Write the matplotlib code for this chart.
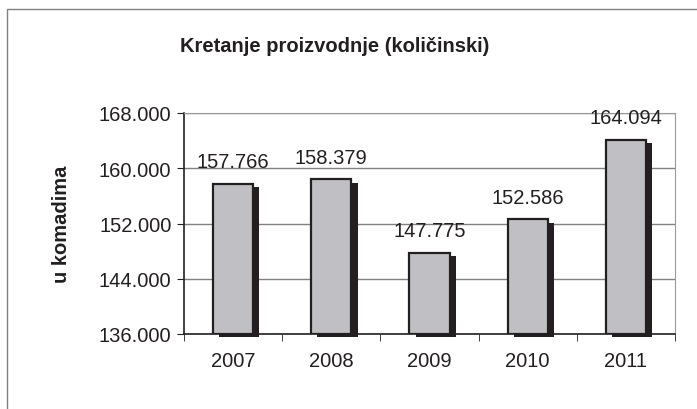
import matplotlib.pyplot as plt
import matplotlib.transforms as mtransforms
from matplotlib.patches import Rectangle

# podaci
years = ['2007', '2008', '2009', '2010', '2011']
values = [157766, 158379, 147775, 152586, 164094]
yticks = [136000, 144000, 152000, 160000, 168000]

plt.rcParams['font.family'] = ['Liberation Sans', 'DejaVu Sans']

fig = plt.figure(figsize=(6.97, 4.10), dpi=100)
ax = fig.add_axes([184 / 697, 1 - 335 / 410, 491 / 697, 221 / 410])

# okvir oko grafikona (odsječen desno i dolje)
fig.patches.append(Rectangle((7 / 697, -0.1), 1.2, 1 - 10 / 410 + 0.1,
                             transform=fig.transFigure, fill=False,
                             edgecolor='#808080', linewidth=1.0))

x = list(range(len(years)))
base = yticks[0]
heights = [v - base for v in values]

# sjena iza stupaca
shadow = mtransforms.offset_copy(ax.transData, fig=fig, x=4.5, y=-2.5, units='points')
ax.bar(x, heights, bottom=base, width=0.41, color='#231f20', edgecolor='none',
       transform=shadow, zorder=2, clip_on=False)
ax.bar(x, heights, bottom=base, width=0.41, color='#c0c0c4', edgecolor='#231f20',
       linewidth=1.6, zorder=3)

for xi, v in zip(x, values):
    ax.annotate(f'{v:,}'.replace(',', '.'), (xi, v), xytext=(0, 9),
                textcoords='offset points', ha='center', va='bottom',
                fontsize=14.5, color='#231f20', zorder=4)

ax.set_xlim(-0.5, len(years) - 0.5)
ax.set_ylim(yticks[0], yticks[-1])
ax.set_yticks(yticks)
ax.set_yticklabels([f'{v:,}'.replace(',', '.') for v in yticks])
ax.set_xticks(x)
ax.set_xticklabels(years)
ax.set_xticks([i - 0.5 for i in range(len(years) + 1)], minor=True)
ax.tick_params(axis='x', which='major', length=0, pad=12, labelsize=14.5, colors='#231f20')
ax.tick_params(axis='x', which='minor', length=5, direction='out', color='#231f20')
ax.tick_params(axis='y', length=5, direction='out', labelsize=14.5, pad=4,
               colors='#231f20')

ax.yaxis.grid(True, color='#808080', linewidth=1.0, zorder=0)
ax.set_axisbelow(True)
for s in ['top', 'right']:
    ax.spines[s].set_color('#999999')
for s in ['left', 'bottom']:
    ax.spines[s].set_color('#231f20')
    ax.spines[s].set_linewidth(1.2)

ax.set_ylabel('u komadima', fontsize=14.5, fontweight='bold', color='#231f20', labelpad=20)
fig.text(335 / 697, 1 - 47 / 410, 'Kretanje proizvodnje (količinski)', ha='center',
         va='center', fontsize=14.5, fontweight='bold', color='#231f20')

fig.savefig('out.png', dpi=100, facecolor='white')
